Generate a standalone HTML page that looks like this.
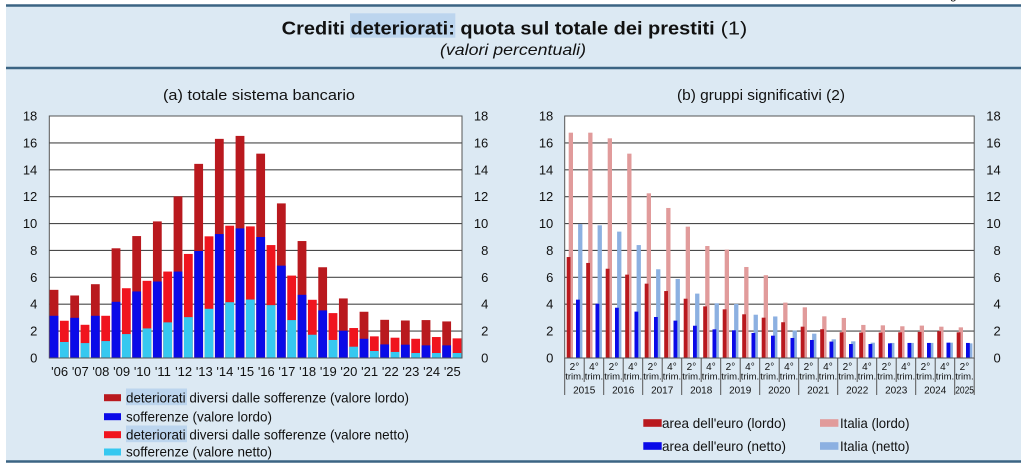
<!DOCTYPE html>
<html><head><meta charset="utf-8"><style>
html,body{margin:0;padding:0;background:#fff;}
svg{display:block;}
.a{fill:#b9191e}.b{fill:#0a0ae8}.c{fill:#f0141e}.d{fill:#36c8f0}.p{fill:#e19b9b}.l{fill:#8cb0e1}
text{font-family:"Liberation Sans",Arial,sans-serif;fill:#111;}
.t{font-size:13px}
.x{font-size:10px}
</style></head><body>
<svg width="1024" height="469" viewBox="0 0 1024 469" xmlns="http://www.w3.org/2000/svg">
<rect x="0" y="0" width="1024" height="469" fill="#fff"/>
<rect x="6" y="5" width="1015" height="457" fill="#dce9f3"/>
<text x="950" y="-1" style="font-size:12px">g</text>
<line x1="6" y1="5.5" x2="1021" y2="5.5" stroke="#3b6483" stroke-width="2.6"/>
<line x1="6" y1="68" x2="1021" y2="68" stroke="#3b6483" stroke-width="2.4"/>
<line x1="6" y1="461.5" x2="1021" y2="461.5" stroke="#3b6483" stroke-width="2.6"/>

<!-- Title -->
<rect x="350" y="13.3" width="105.3" height="24.4" fill="#bcd5ee"/>
<text x="281.7" y="34.3" style="font-size:18px;font-weight:bold" textLength="433" lengthAdjust="spacingAndGlyphs">Crediti deteriorati: quota sul totale dei prestiti</text>
<text x="720.7" y="34.3" style="font-size:18px" textLength="26.6" lengthAdjust="spacingAndGlyphs">(1)</text>
<text x="440" y="55" style="font-size:16px;font-style:italic" textLength="146" lengthAdjust="spacingAndGlyphs">(valori percentuali)</text>

<!-- Panel subtitles -->
<text x="163" y="100" style="font-size:15px" textLength="192" lengthAdjust="spacingAndGlyphs">(a) totale sistema bancario</text>
<text x="677" y="100" style="font-size:15px" textLength="168" lengthAdjust="spacingAndGlyphs">(b) gruppi significativi (2)</text>

<!-- LEFT CHART -->
<rect x="49.3" y="116" width="412.7" height="242" fill="#fff" stroke="#555" stroke-width="1"/>
<g stroke="#4a4a4a" stroke-width="1.1">
<line x1="49.3" y1="142.9" x2="462" y2="142.9"/><line x1="49.3" y1="169.8" x2="462" y2="169.8"/>
<line x1="49.3" y1="196.7" x2="462" y2="196.7"/><line x1="49.3" y1="223.6" x2="462" y2="223.6"/>
<line x1="49.3" y1="250.4" x2="462" y2="250.4"/><line x1="49.3" y1="277.3" x2="462" y2="277.3"/>
<line x1="49.3" y1="304.2" x2="462" y2="304.2"/><line x1="49.3" y1="331.1" x2="462" y2="331.1"/>
</g>
<g transform="translate(49.6,358) scale(1,-13.444)">
<rect class="a" x="0" width="8.8" height="5.07"/><rect class="b" x="0" width="8.8" height="3.14"/><rect class="c" x="10.333" width="8.8" height="2.77"/><rect class="d" x="10.333" width="8.8" height="1.19"/>
<rect class="a" x="20.667" width="8.8" height="4.65"/><rect class="b" x="20.667" width="8.8" height="2.99"/><rect class="c" x="31" width="8.8" height="2.47"/><rect class="d" x="31" width="8.8" height="1.11"/>
<rect class="a" x="41.333" width="8.8" height="5.49"/><rect class="b" x="41.333" width="8.8" height="3.14"/><rect class="c" x="51.667" width="8.8" height="3.14"/><rect class="d" x="51.667" width="8.8" height="1.26"/>
<rect class="a" x="62" width="8.8" height="8.16"/><rect class="b" x="62" width="8.8" height="4.18"/><rect class="c" x="72.333" width="8.8" height="5.19"/><rect class="d" x="72.333" width="8.8" height="1.78"/>
<rect class="a" x="82.667" width="8.8" height="9.07"/><rect class="b" x="82.667" width="8.8" height="4.95"/><rect class="c" x="93" width="8.8" height="5.74"/><rect class="d" x="93" width="8.8" height="2.20"/>
<rect class="a" x="103.333" width="8.8" height="10.16"/><rect class="b" x="103.333" width="8.8" height="5.69"/><rect class="c" x="113.667" width="8.8" height="6.43"/><rect class="d" x="113.667" width="8.8" height="2.65"/>
<rect class="a" x="124" width="8.8" height="12.02"/><rect class="b" x="124" width="8.8" height="6.43"/><rect class="c" x="134.333" width="8.8" height="7.74"/><rect class="d" x="134.333" width="8.8" height="3.04"/>
<rect class="a" x="144.667" width="8.8" height="14.44"/><rect class="b" x="144.667" width="8.8" height="7.96"/><rect class="c" x="155" width="8.8" height="9.05"/><rect class="d" x="155" width="8.8" height="3.66"/>
<rect class="a" x="165.333" width="8.8" height="16.30"/><rect class="b" x="165.333" width="8.8" height="9.22"/><rect class="c" x="175.667" width="8.8" height="9.84"/><rect class="d" x="175.667" width="8.8" height="4.15"/>
<rect class="a" x="186" width="8.8" height="16.52"/><rect class="b" x="186" width="8.8" height="9.64"/><rect class="c" x="196.333" width="8.8" height="9.79"/><rect class="d" x="196.333" width="8.8" height="4.35"/>
<rect class="a" x="206.667" width="8.8" height="15.2"/><rect class="b" x="206.667" width="8.8" height="9.0"/><rect class="c" x="217" width="8.8" height="8.4"/><rect class="d" x="217" width="8.8" height="3.93"/>
<rect class="a" x="227.333" width="8.8" height="11.5"/><rect class="b" x="227.333" width="8.8" height="6.87"/><rect class="c" x="237.667" width="8.8" height="6.13"/><rect class="d" x="237.667" width="8.8" height="2.82"/>
<rect class="a" x="248" width="8.8" height="8.7"/><rect class="b" x="248" width="8.8" height="4.7"/><rect class="c" x="258.333" width="8.8" height="4.33"/><rect class="d" x="258.333" width="8.8" height="1.73"/>
<rect class="a" x="268.667" width="8.8" height="6.75"/><rect class="b" x="268.667" width="8.8" height="3.54"/><rect class="c" x="279" width="8.8" height="3.34"/><rect class="d" x="279" width="8.8" height="1.34"/>
<rect class="a" x="289.333" width="8.8" height="4.43"/><rect class="b" x="289.333" width="8.8" height="2.03"/><rect class="c" x="299.667" width="8.8" height="2.23"/><rect class="d" x="299.667" width="8.8" height="0.84"/>
<rect class="a" x="310" width="8.8" height="3.44"/><rect class="b" x="310" width="8.8" height="1.43"/><rect class="c" x="320.333" width="8.8" height="1.61"/><rect class="d" x="320.333" width="8.8" height="0.52"/>
<rect class="a" x="330.667" width="8.8" height="2.84"/><rect class="b" x="330.667" width="8.8" height="1.01"/><rect class="c" x="341" width="8.8" height="1.51"/><rect class="d" x="341" width="8.8" height="0.45"/>
<rect class="a" x="351.333" width="8.8" height="2.79"/><rect class="b" x="351.333" width="8.8" height="0.99"/><rect class="c" x="361.667" width="8.8" height="1.43"/><rect class="d" x="361.667" width="8.8" height="0.37"/>
<rect class="a" x="372" width="8.8" height="2.82"/><rect class="b" x="372" width="8.8" height="0.94"/><rect class="c" x="382.333" width="8.8" height="1.56"/><rect class="d" x="382.333" width="8.8" height="0.37"/>
<rect class="a" x="392.667" width="8.8" height="2.72"/><rect class="b" x="392.667" width="8.8" height="0.94"/><rect class="c" x="403" width="8.8" height="1.46"/><rect class="d" x="403" width="8.8" height="0.37"/>
</g>
<line x1="49.3" y1="358" x2="462" y2="358" stroke="#555" stroke-width="1"/>
<g class="t" text-anchor="end">
<text x="37.3" y="362.5" class="t">0</text><text x="37.3" y="335.6" class="t">2</text><text x="37.3" y="308.7" class="t">4</text><text x="37.3" y="281.8" class="t">6</text><text x="37.3" y="254.9" class="t">8</text><text x="37.3" y="228.1" class="t">10</text><text x="37.3" y="201.2" class="t">12</text><text x="37.3" y="174.3" class="t">14</text><text x="37.3" y="147.4" class="t">16</text><text x="37.3" y="120.5" class="t">18</text>
<text x="488.3" y="362.5" class="t">0</text><text x="488.3" y="335.6" class="t">2</text><text x="488.3" y="308.7" class="t">4</text><text x="488.3" y="281.8" class="t">6</text><text x="488.3" y="254.9" class="t">8</text><text x="488.3" y="228.1" class="t">10</text><text x="488.3" y="201.2" class="t">12</text><text x="488.3" y="174.3" class="t">14</text><text x="488.3" y="147.4" class="t">16</text><text x="488.3" y="120.5" class="t">18</text>
</g>
<g text-anchor="middle">
<text class="t" x="59.6" y="376">'06</text><text class="t" x="80.3" y="376">'07</text><text class="t" x="100.9" y="376">'08</text><text class="t" x="121.6" y="376">'09</text><text class="t" x="142.3" y="376">'10</text><text class="t" x="162.9" y="376">'11</text><text class="t" x="183.6" y="376">'12</text><text class="t" x="204.3" y="376">'13</text><text class="t" x="224.9" y="376">'14</text><text class="t" x="245.6" y="376">'15</text><text class="t" x="266.3" y="376">'16</text><text class="t" x="286.9" y="376">'17</text><text class="t" x="307.6" y="376">'18</text><text class="t" x="328.3" y="376">'19</text><text class="t" x="348.9" y="376">'20</text><text class="t" x="369.6" y="376">'21</text><text class="t" x="390.3" y="376">'22</text><text class="t" x="410.9" y="376">'23</text><text class="t" x="431.6" y="376">'24</text><text class="t" x="452.3" y="376">'25</text>
</g>

<!-- Left legend -->
<rect x="126" y="388.5" width="61" height="16.7" fill="#bcd5ee"/>
<rect x="126" y="425.5" width="61" height="16.7" fill="#bcd5ee"/>
<rect class="a" x="104" y="394.2" width="17" height="7"/>
<rect class="b" x="104" y="413.2" width="17" height="7"/>
<rect class="c" x="104" y="431.2" width="17" height="7"/>
<rect class="d" x="104" y="448.5" width="17" height="7"/>
<text x="126" y="402.3" style="font-size:14px" textLength="283" lengthAdjust="spacingAndGlyphs">deteriorati diversi dalle sofferenze (valore lordo)</text>
<text x="126" y="421.3" style="font-size:14px" textLength="146" lengthAdjust="spacingAndGlyphs">sofferenze (valore lordo)</text>
<text x="126" y="439.3" style="font-size:14px" textLength="283" lengthAdjust="spacingAndGlyphs">deteriorati diversi dalle sofferenze (valore netto)</text>
<text x="126" y="456.6" style="font-size:14px" textLength="146" lengthAdjust="spacingAndGlyphs">sofferenze (valore netto)</text>

<!-- RIGHT CHART -->
<rect x="564.7" y="116" width="409.5" height="242" fill="#fff" stroke="#555" stroke-width="1"/>
<g stroke="#4a4a4a" stroke-width="1.1">
<line x1="564.7" y1="142.9" x2="974.2" y2="142.9"/><line x1="564.7" y1="169.8" x2="974.2" y2="169.8"/>
<line x1="564.7" y1="196.7" x2="974.2" y2="196.7"/><line x1="564.7" y1="223.6" x2="974.2" y2="223.6"/>
<line x1="564.7" y1="250.4" x2="974.2" y2="250.4"/><line x1="564.7" y1="277.3" x2="974.2" y2="277.3"/>
<line x1="564.7" y1="304.2" x2="974.2" y2="304.2"/><line x1="564.7" y1="331.1" x2="974.2" y2="331.1"/>
</g>
<g transform="translate(564.7,358) scale(1,-13.444)">
<g transform="translate(0,0)"><rect class="p" x="4" width="4.3" height="16.76"/><rect class="a" x="2" width="3.8" height="7.51"/><rect class="l" x="13.4" width="4.3" height="9.97"/><rect class="b" x="11.3" width="3.8" height="4.34"/></g>
<g transform="translate(19.5,0)"><rect class="p" x="4" width="4.3" height="16.76"/><rect class="a" x="2" width="3.8" height="7.07"/><rect class="l" x="13.4" width="4.3" height="9.87"/><rect class="b" x="11.3" width="3.8" height="4.04"/></g>
<g transform="translate(39,0)"><rect class="p" x="4" width="4.3" height="16.34"/><rect class="a" x="2" width="3.8" height="6.64"/><rect class="l" x="13.4" width="4.3" height="9.40"/><rect class="b" x="11.3" width="3.8" height="3.74"/></g>
<g transform="translate(58.5,0)"><rect class="p" x="4" width="4.3" height="15.20"/><rect class="a" x="2" width="3.8" height="6.20"/><rect class="l" x="13.4" width="4.3" height="8.40"/><rect class="b" x="11.3" width="3.8" height="3.45"/></g>
<g transform="translate(78,0)"><rect class="p" x="4" width="4.3" height="12.25"/><rect class="a" x="2" width="3.8" height="5.53"/><rect class="l" x="13.4" width="4.3" height="6.60"/><rect class="b" x="11.3" width="3.8" height="3.05"/></g>
<g transform="translate(97.5,0)"><rect class="p" x="4" width="4.3" height="11.16"/><rect class="a" x="2" width="3.8" height="4.98"/><rect class="l" x="13.4" width="4.3" height="5.88"/><rect class="b" x="11.3" width="3.8" height="2.78"/></g>
<g transform="translate(117,0)"><rect class="p" x="4" width="4.3" height="9.77"/><rect class="a" x="2" width="3.8" height="4.41"/><rect class="l" x="13.4" width="4.3" height="4.79"/><rect class="b" x="11.3" width="3.8" height="2.40"/></g>
<g transform="translate(136.5,0)"><rect class="p" x="4" width="4.3" height="8.33"/><rect class="a" x="2" width="3.8" height="3.84"/><rect class="l" x="13.4" width="4.3" height="4.07"/><rect class="b" x="11.3" width="3.8" height="2.13"/></g>
<g transform="translate(156,0)"><rect class="p" x="4" width="4.3" height="8.06"/><rect class="a" x="2" width="3.8" height="3.62"/><rect class="l" x="13.4" width="4.3" height="4.02"/><rect class="b" x="11.3" width="3.8" height="2.06"/></g>
<g transform="translate(175.5,0)"><rect class="p" x="4" width="4.3" height="6.77"/><rect class="a" x="2" width="3.8" height="3.25"/><rect class="l" x="13.4" width="4.3" height="3.22"/><rect class="b" x="11.3" width="3.8" height="1.86"/></g>
<g transform="translate(195,0)"><rect class="p" x="4" width="4.3" height="6.16"/><rect class="a" x="2" width="3.8" height="3.00"/><rect class="l" x="13.4" width="4.3" height="3.09"/><rect class="b" x="11.3" width="3.8" height="1.66"/></g>
<g transform="translate(214.5,0)"><rect class="p" x="4" width="4.3" height="4.12"/><rect class="a" x="2" width="3.8" height="2.66"/><rect class="l" x="13.4" width="4.3" height="2.04"/><rect class="b" x="11.3" width="3.8" height="1.49"/></g>
<g transform="translate(234,0)"><rect class="p" x="4" width="4.3" height="3.77"/><rect class="a" x="2" width="3.8" height="2.33"/><rect class="l" x="13.4" width="4.3" height="1.81"/><rect class="b" x="11.3" width="3.8" height="1.34"/></g>
<g transform="translate(253.5,0)"><rect class="p" x="4" width="4.3" height="3.10"/><rect class="a" x="2" width="3.8" height="2.14"/><rect class="l" x="13.4" width="4.3" height="1.39"/><rect class="b" x="11.3" width="3.8" height="1.22"/></g>
<g transform="translate(273,0)"><rect class="p" x="4" width="4.3" height="2.98"/><rect class="a" x="2" width="3.8" height="1.91"/><rect class="l" x="13.4" width="4.3" height="1.24"/><rect class="b" x="11.3" width="3.8" height="1.04"/></g>
<g transform="translate(292.5,0)"><rect class="p" x="4" width="4.3" height="2.46"/><rect class="a" x="2" width="3.8" height="1.89"/><rect class="l" x="13.4" width="4.3" height="1.14"/><rect class="b" x="11.3" width="3.8" height="1.04"/></g>
<g transform="translate(312,0)"><rect class="p" x="4" width="4.3" height="2.43"/><rect class="a" x="2" width="3.8" height="1.89"/><rect class="l" x="13.4" width="4.3" height="1.12"/><rect class="b" x="11.3" width="3.8" height="1.09"/></g>
<g transform="translate(331.5,0)"><rect class="p" x="4" width="4.3" height="2.36"/><rect class="a" x="2" width="3.8" height="1.91"/><rect class="l" x="13.4" width="4.3" height="1.12"/><rect class="b" x="11.3" width="3.8" height="1.12"/></g>
<g transform="translate(351,0)"><rect class="p" x="4" width="4.3" height="2.41"/><rect class="a" x="2" width="3.8" height="1.94"/><rect class="l" x="13.4" width="4.3" height="1.12"/><rect class="b" x="11.3" width="3.8" height="1.12"/></g>
<g transform="translate(370.5,0)"><rect class="p" x="4" width="4.3" height="2.33"/><rect class="a" x="2" width="3.8" height="1.99"/><rect class="l" x="13.4" width="4.3" height="1.14"/><rect class="b" x="11.3" width="3.8" height="1.14"/></g>
<g transform="translate(390,0)"><rect class="p" x="4" width="4.3" height="2.28"/><rect class="a" x="2" width="3.8" height="1.91"/><rect class="l" x="13.4" width="4.3" height="1.09"/><rect class="b" x="11.3" width="3.8" height="1.12"/></g>
</g>
<line x1="564.7" y1="358" x2="974.2" y2="358" stroke="#555" stroke-width="1"/>
<g text-anchor="end">
<text x="553.3" y="362.5" class="t">0</text><text x="553.3" y="335.6" class="t">2</text><text x="553.3" y="308.7" class="t">4</text><text x="553.3" y="281.8" class="t">6</text><text x="553.3" y="254.9" class="t">8</text><text x="553.3" y="228.1" class="t">10</text><text x="553.3" y="201.2" class="t">12</text><text x="553.3" y="174.3" class="t">14</text><text x="553.3" y="147.4" class="t">16</text><text x="553.3" y="120.5" class="t">18</text>
<text x="1000.7" y="362.5" class="t">0</text><text x="1000.7" y="335.6" class="t">2</text><text x="1000.7" y="308.7" class="t">4</text><text x="1000.7" y="281.8" class="t">6</text><text x="1000.7" y="254.9" class="t">8</text><text x="1000.7" y="228.1" class="t">10</text><text x="1000.7" y="201.2" class="t">12</text><text x="1000.7" y="174.3" class="t">14</text><text x="1000.7" y="147.4" class="t">16</text><text x="1000.7" y="120.5" class="t">18</text>
</g>
<!-- right x-axis separators -->
<g stroke="#555" stroke-width="1">
<line x1="584.2" y1="358" x2="584.2" y2="382"/><line x1="623.2" y1="358" x2="623.2" y2="382"/><line x1="662.2" y1="358" x2="662.2" y2="382"/><line x1="701.2" y1="358" x2="701.2" y2="382"/><line x1="740.2" y1="358" x2="740.2" y2="382"/><line x1="779.2" y1="358" x2="779.2" y2="382"/><line x1="818.2" y1="358" x2="818.2" y2="382"/><line x1="857.2" y1="358" x2="857.2" y2="382"/><line x1="896.2" y1="358" x2="896.2" y2="382"/><line x1="935.2" y1="358" x2="935.2" y2="382"/>
<line x1="564.7" y1="358" x2="564.7" y2="395"/><line x1="603.7" y1="358" x2="603.7" y2="395"/><line x1="642.7" y1="358" x2="642.7" y2="395"/><line x1="681.7" y1="358" x2="681.7" y2="395"/><line x1="720.7" y1="358" x2="720.7" y2="395"/><line x1="759.7" y1="358" x2="759.7" y2="395"/><line x1="798.7" y1="358" x2="798.7" y2="395"/><line x1="837.7" y1="358" x2="837.7" y2="395"/><line x1="876.7" y1="358" x2="876.7" y2="395"/><line x1="915.7" y1="358" x2="915.7" y2="395"/><line x1="954.7" y1="358" x2="954.7" y2="395"/><line x1="974.2" y1="358" x2="974.2" y2="395"/>
</g>
<g text-anchor="middle" class="x">
<text class="x" x="574.45" y="370">2°</text><text class="x" x="593.95" y="370">4°</text><text class="x" x="613.45" y="370">2°</text><text class="x" x="632.95" y="370">4°</text><text class="x" x="652.45" y="370">2°</text><text class="x" x="671.95" y="370">4°</text><text class="x" x="691.45" y="370">2°</text><text class="x" x="710.95" y="370">4°</text><text class="x" x="730.45" y="370">2°</text><text class="x" x="749.95" y="370">4°</text><text class="x" x="769.45" y="370">2°</text><text class="x" x="788.95" y="370">4°</text><text class="x" x="808.45" y="370">2°</text><text class="x" x="827.95" y="370">4°</text><text class="x" x="847.45" y="370">2°</text><text class="x" x="866.95" y="370">4°</text><text class="x" x="886.45" y="370">2°</text><text class="x" x="905.95" y="370">4°</text><text class="x" x="925.45" y="370">2°</text><text class="x" x="944.95" y="370">4°</text><text class="x" x="964.45" y="370">2°</text>
</g>
<g text-anchor="middle" style="font-size:9.5px">
<text x="574.45" y="379.5" style="font-size:9.5px">trim.</text><text x="593.95" y="379.5" style="font-size:9.5px">trim.</text><text x="613.45" y="379.5" style="font-size:9.5px">trim.</text><text x="632.95" y="379.5" style="font-size:9.5px">trim.</text><text x="652.45" y="379.5" style="font-size:9.5px">trim.</text><text x="671.95" y="379.5" style="font-size:9.5px">trim.</text><text x="691.45" y="379.5" style="font-size:9.5px">trim.</text><text x="710.95" y="379.5" style="font-size:9.5px">trim.</text><text x="730.45" y="379.5" style="font-size:9.5px">trim.</text><text x="749.95" y="379.5" style="font-size:9.5px">trim.</text><text x="769.45" y="379.5" style="font-size:9.5px">trim.</text><text x="788.95" y="379.5" style="font-size:9.5px">trim.</text><text x="808.45" y="379.5" style="font-size:9.5px">trim.</text><text x="827.95" y="379.5" style="font-size:9.5px">trim.</text><text x="847.45" y="379.5" style="font-size:9.5px">trim.</text><text x="866.95" y="379.5" style="font-size:9.5px">trim.</text><text x="886.45" y="379.5" style="font-size:9.5px">trim.</text><text x="905.95" y="379.5" style="font-size:9.5px">trim.</text><text x="925.45" y="379.5" style="font-size:9.5px">trim.</text><text x="944.95" y="379.5" style="font-size:9.5px">trim.</text><text x="964.45" y="379.5" style="font-size:9.5px">trim.</text>
</g>
<g text-anchor="middle">
<text class="x" x="584.2" y="393.3">2015</text><text class="x" x="623.2" y="393.3">2016</text><text class="x" x="662.2" y="393.3">2017</text><text class="x" x="701.2" y="393.3">2018</text><text class="x" x="740.2" y="393.3">2019</text><text class="x" x="779.2" y="393.3">2020</text><text class="x" x="818.2" y="393.3">2021</text><text class="x" x="857.2" y="393.3">2022</text><text class="x" x="896.2" y="393.3">2023</text><text class="x" x="935.2" y="393.3">2024</text>
</g>
<text class="x" x="955.2" y="393.3" textLength="18.8" lengthAdjust="spacingAndGlyphs">2025</text>

<!-- Right legend -->
<rect class="a" x="643.3" y="419.2" width="18.4" height="7.6"/>
<rect class="b" x="643.3" y="442.2" width="18.4" height="7.6"/>
<rect class="p" x="820" y="419.2" width="18.4" height="7.6"/>
<rect class="l" x="820" y="442.2" width="18.4" height="7.6"/>
<text x="662" y="428" style="font-size:14px" textLength="124" lengthAdjust="spacingAndGlyphs">area dell'euro (lordo)</text>
<text x="662" y="451" style="font-size:14px" textLength="124" lengthAdjust="spacingAndGlyphs">area dell'euro (netto)</text>
<text x="840" y="428" style="font-size:14px" textLength="69.5" lengthAdjust="spacingAndGlyphs">Italia (lordo)</text>
<text x="840" y="451" style="font-size:14px" textLength="69.5" lengthAdjust="spacingAndGlyphs">Italia (netto)</text>
</svg>
</body></html>
